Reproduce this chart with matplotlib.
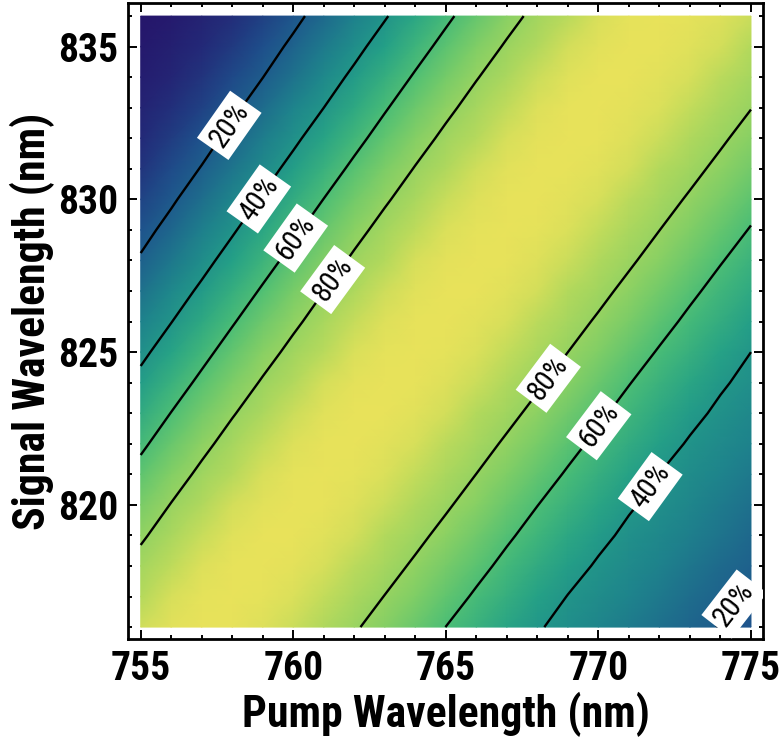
import numpy as np
import matplotlib
matplotlib.use("Agg")
import matplotlib.pyplot as plt
from matplotlib.colors import LinearSegmentedColormap
from matplotlib.ticker import MultipleLocator

# ---- data ----
pump_nm = list(range(755, 776))        # x grid, nm
signal_nm = list(range(836, 815, -1))  # y grid, nm (rows listed top -> bottom)

# conversion efficiency (%) at each (signal row, pump column)
efficiency_pct = [
    [2.5, 3.9, 6.0, 8.9, 12.8, 17.7, 23.7, 30.8, 39.0, 47.9, 57.4, 66.7, 75.6, 83.6, 90.5, 95.6, 98.9, 100.0, 99.2, 96.9, 93.1],
    [3.4, 5.3, 7.9, 11.5, 16.0, 21.8, 28.6, 36.5, 45.3, 54.7, 64.1, 73.2, 81.5, 88.8, 94.4, 98.2, 99.9, 99.6, 97.6, 94.2, 89.4],
    [4.6, 7.0, 10.3, 14.5, 19.9, 26.4, 34.1, 42.6, 51.9, 61.5, 70.7, 79.3, 86.9, 93.1, 97.4, 99.7, 99.8, 98.3, 95.2, 90.7, 85.1],
    [6.2, 9.1, 13.1, 18.1, 24.4, 31.7, 40.0, 49.2, 58.8, 68.1, 77.0, 85.0, 91.6, 96.5, 99.3, 100.0, 98.8, 96.1, 91.9, 86.6, 80.3],
    [8.1, 11.8, 16.5, 22.4, 29.4, 37.5, 46.5, 56.0, 65.5, 74.6, 82.9, 90.0, 95.3, 98.7, 100.0, 99.3, 96.9, 93.1, 88.0, 81.9, 75.2],
    [10.5, 14.9, 20.5, 27.2, 35.0, 43.8, 53.2, 62.9, 72.1, 80.7, 88.2, 94.1, 98.1, 99.9, 99.6, 97.7, 94.2, 89.4, 83.5, 76.9, 70.0],
    [13.4, 18.7, 25.1, 32.6, 41.2, 50.5, 60.2, 69.6, 78.4, 86.3, 92.7, 97.2, 99.6, 99.9, 98.3, 95.2, 90.7, 85.0, 78.5, 71.7, 64.6],
    [16.9, 23.0, 30.3, 38.6, 47.7, 57.4, 67.0, 76.1, 84.3, 91.1, 96.2, 99.2, 100.0, 98.9, 96.1, 91.9, 86.5, 80.1, 73.4, 66.3, 59.2],
    [21.0, 28.0, 36.0, 45.0, 54.6, 64.3, 73.6, 82.1, 89.4, 95.0, 98.6, 100.0, 99.3, 97.0, 93.1, 88.0, 81.8, 75.1, 68.0, 60.8, 54.2],
    [25.8, 33.6, 42.3, 51.8, 61.6, 71.1, 79.9, 87.6, 93.7, 97.9, 99.8, 99.7, 97.7, 94.2, 89.4, 83.4, 76.7, 69.8, 62.5, 55.7, 49.3],
    [31.1, 39.7, 49.0, 58.8, 68.5, 77.5, 85.6, 92.3, 97.0, 99.5, 99.9, 98.4, 95.2, 90.7, 84.9, 78.4, 71.5, 64.3, 57.3, 50.8, 44.6],
    [37.1, 46.3, 56.0, 65.8, 75.1, 83.5, 90.6, 95.9, 99.1, 100.0, 98.9, 96.2, 92.0, 86.5, 80.0, 73.2, 66.0, 58.9, 52.4, 46.0, 40.0],
    [43.5, 53.2, 63.0, 72.6, 81.3, 88.9, 94.7, 98.5, 100.0, 99.4, 97.0, 93.1, 87.9, 81.7, 74.9, 67.8, 60.5, 53.9, 47.5, 41.4, 36.9],
    [50.3, 60.3, 70.0, 79.0, 87.0, 93.3, 97.7, 99.8, 99.7, 97.8, 94.3, 89.3, 83.3, 76.6, 69.5, 62.2, 55.5, 49.1, 42.9, 37.9, 33.9],
    [57.4, 67.3, 76.6, 85.0, 91.8, 96.8, 99.5, 99.9, 98.4, 95.3, 90.7, 84.9, 78.2, 71.3, 64.0, 57.0, 50.6, 44.3, 38.9, 34.8, 31.0],
    [64.5, 74.1, 82.8, 90.1, 95.6, 99.0, 100.0, 99.0, 96.2, 92.0, 86.4, 79.9, 73.0, 65.8, 58.6, 52.1, 45.8, 39.9, 35.8, 31.9, 28.3],
    [71.5, 80.5, 88.3, 94.4, 98.3, 100.0, 99.4, 97.1, 93.2, 87.9, 81.6, 74.7, 67.5, 60.2, 53.7, 47.3, 41.2, 36.8, 32.9, 29.2, 25.7],
    [78.1, 86.3, 92.9, 97.5, 99.8, 99.7, 97.8, 94.3, 89.3, 83.2, 76.4, 69.3, 61.9, 55.2, 48.8, 42.7, 37.7, 33.8, 30.1, 26.6, 23.3],
    [84.2, 91.3, 96.5, 99.4, 99.9, 98.5, 95.3, 90.7, 84.8, 78.1, 71.0, 63.7, 56.7, 50.3, 44.1, 38.7, 34.7, 30.9, 27.4, 24.1, 21.1],
    [89.6, 95.3, 98.9, 100.0, 99.0, 96.3, 92.0, 86.4, 79.7, 72.8, 65.5, 58.3, 51.9, 45.6, 39.7, 35.7, 31.8, 28.2, 24.9, 21.8, 19.0],
    [94.0, 98.2, 99.9, 99.4, 97.1, 93.2, 87.9, 81.4, 74.5, 67.3, 59.9, 53.4, 47.1, 41.0, 36.6, 32.7, 29.1, 25.7, 22.5, 19.6, 17.0],
]

contour_levels = [20, 40, 60, 80]
label_pump = [757.99, 758.85, 760.10, 761.34, 768.31, 770.00, 771.64, 774.65]
label_signal = [832.36, 830.03, 828.72, 827.34, 824.18, 822.60, 820.64, 816.60]

x_ticks = [755, 760, 765, 770, 775]
y_ticks = [820, 825, 830, 835]

# ---- style ----
plt.rcParams['font.family'] = ['Roboto Condensed', 'Liberation Sans', 'DejaVu Sans']

cmap = LinearSegmentedColormap.from_list("eff", [
    (0.00, "#260e66"),
    (0.08, "#232a78"),
    (0.16, "#1e508c"),
    (0.31, "#1e828c"),
    (0.45, "#24a087"),
    (0.60, "#4bbe76"),
    (0.75, "#87d064"),
    (0.90, "#b5d95c"),
    (0.95, "#d6df5a"),
    (1.00, "#e8e25a"),
])

fig = plt.figure(figsize=(7.83, 7.42), dpi=100)
ax = fig.add_axes([0.1631, 0.1384, 0.8117, 0.8572])

X, Y = np.meshgrid(pump_nm, signal_nm)
Z = np.array(efficiency_pct, dtype=float)

ax.pcolormesh(X, Y, Z, cmap=cmap, vmin=0, vmax=100, shading='gouraud', zorder=1)
cs = ax.contour(X, Y, Z, levels=contour_levels, colors='k', linewidths=1.7, zorder=2)
labels = ax.clabel(cs, inline=True, fontsize=21, fmt=lambda v: f"{v:.0f}%",
                   manual=list(zip(label_pump, label_signal)), inline_spacing=2)
for t in labels:
    t.set_bbox(dict(boxstyle='square,pad=0.18', fc='white', ec='none'))
    t.set_zorder(5)

ax.set_xlim(754.574, 775.403)
ax.set_ylim(815.60, 836.42)
ax.set_xticks(x_ticks)
ax.set_yticks(y_ticks)
ax.xaxis.set_minor_locator(MultipleLocator(1))
ax.yaxis.set_minor_locator(MultipleLocator(1))
ax.tick_params(which='both', direction='in', top=True, right=True, width=1.4, colors='k')
ax.tick_params(which='major', length=6.5, labelsize=28.5)
ax.tick_params(axis='x', which='major', pad=8)
ax.tick_params(axis='y', which='major', pad=7)
ax.tick_params(which='minor', length=3)
for lab in ax.get_xticklabels() + ax.get_yticklabels():
    lab.set_fontweight('bold')
for s in ax.spines.values():
    s.set_linewidth(2.0)

ax.set_xlabel("Pump Wavelength (nm)", fontsize=31.5, fontweight='bold')
ax.set_ylabel("Signal Wavelength (nm)", fontsize=31.5, fontweight='bold')
ax.xaxis.label.set_va('center')
ax.yaxis.label.set_va('center')
ax.xaxis.set_label_coords(0.5, -0.118)
ax.yaxis.set_label_coords(-0.1506, 0.5)

fig.savefig("out.png", dpi=100)
